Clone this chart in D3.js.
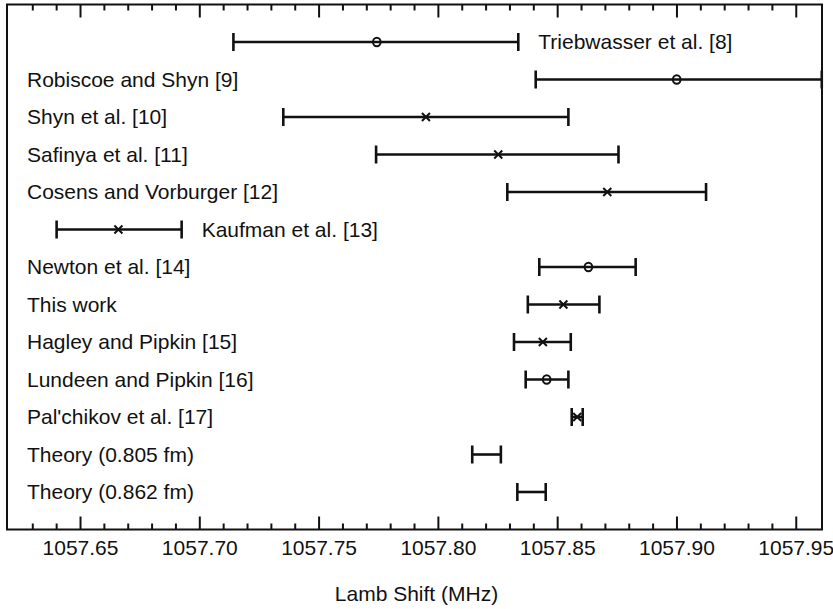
<!DOCTYPE html>
<html>
<head>
<meta charset="utf-8">
<script src="https://cdn.jsdelivr.net/npm/d3@7"></script>
<style>
  html, body { margin: 0; padding: 0; background: #fff; }
  svg { display: block; font-family: "Liberation Sans", Arial, Helvetica, sans-serif; }
</style>
</head>
<body>
<svg id="chart" width="833" height="609"></svg>
<script>
// ---- data ----
const labels = [
  "Triebwasser et al. [8]",
  "Robiscoe and Shyn [9]",
  "Shyn et al. [10]",
  "Safinya et al. [11]",
  "Cosens and Vorburger [12]",
  "Kaufman et al. [13]",
  "Newton et al. [14]",
  "This work",
  "Hagley and Pipkin [15]",
  "Lundeen and Pipkin [16]",
  "Pal'chikov et al. [17]",
  "Theory (0.805 fm)",
  "Theory (0.862 fm)"
];
const lows    = [1057.7143, 1057.8410, 1057.7352, 1057.7741, 1057.8291, 1057.6402, 1057.8425, 1057.8377, 1057.8319, 1057.8368, 1057.8561, 1057.8144, 1057.8333];
const centers = [1057.7744, 1057.9001, 1057.7950, 1057.8253, 1057.8710, 1057.6661, 1057.8631, 1057.8526, 1057.8440, 1057.8456, 1057.8584, null, null];
const highs   = [1057.8337, 1057.9609, 1057.8547, 1057.8757, 1057.9124, 1057.6926, 1057.8829, 1057.8677, 1057.8557, 1057.8547, 1057.8607, 1057.8264, 1057.8452];
const markers = ["o", "o", "x", "x", "x", "x", "o", "x", "x", "o", "x", "", ""];
const labelAfterBar = ["Triebwasser et al. [8]", "Kaufman et al. [13]"];
const majorTicks = [1057.65, 1057.70, 1057.75, 1057.80, 1057.85, 1057.90, 1057.95];
const minorTicks = [1057.63, 1057.64, 1057.66, 1057.67, 1057.68, 1057.69, 1057.71, 1057.72, 1057.73, 1057.74,
                    1057.76, 1057.77, 1057.78, 1057.79, 1057.81, 1057.82, 1057.83, 1057.84, 1057.86, 1057.87,
                    1057.88, 1057.89, 1057.91, 1057.92, 1057.93, 1057.94];
const xTitle = "Lamb Shift (MHz)";

// ---- layout ----
const plotL = 7, plotR = 822, plotT = 4.5, plotB = 529.5;
const ink = "#111";
const fontSize = 21;

const svg = d3.select("#chart");
const x = d3.scaleLinear().domain([1057.6194, 1057.961]).range([plotL, plotR]);
const y = d3.scalePoint().domain(labels).range([plotT, plotB]).padding(1);

// frame
svg.append("rect")
  .attr("x", plotL).attr("y", plotT)
  .attr("width", plotR - plotL).attr("height", plotB - plotT)
  .attr("fill", "none").attr("stroke", ink).attr("stroke-width", 2);

// axes (ticks inward)
function styleAxis(g) {
  g.select(".domain").remove();
  g.selectAll(".tick line").attr("stroke", ink).attr("stroke-width", 2);
  g.selectAll(".tick text").attr("fill", ink).attr("font-size", fontSize)
    .attr("font-family", "'Liberation Sans', Arial, sans-serif");
}
svg.append("g").attr("transform", `translate(0,${plotB})`)
  .call(d3.axisBottom(x).tickValues(majorTicks).tickSize(-13).tickPadding(11).tickFormat(d3.format(".2f")))
  .call(styleAxis);
svg.append("g").attr("transform", `translate(0,${plotB})`)
  .call(d3.axisBottom(x).tickValues(minorTicks).tickSize(-6).tickFormat(""))
  .call(styleAxis);
svg.append("g").attr("transform", `translate(0,${plotT})`)
  .call(d3.axisTop(x).tickValues(majorTicks).tickSize(-13).tickFormat(""))
  .call(styleAxis);
svg.append("g").attr("transform", `translate(0,${plotT})`)
  .call(d3.axisTop(x).tickValues(minorTicks).tickSize(-6).tickFormat(""))
  .call(styleAxis);

// x title
svg.append("text")
  .attr("x", (plotL + plotR) / 2 + 2).attr("y", 600.5)
  .attr("text-anchor", "middle").attr("font-size", fontSize).attr("fill", ink)
  .text(xTitle);

// error bars
const rows = labels.map((l, i) => ({ label: l, lo: lows[i], c: centers[i], hi: highs[i], m: markers[i] }));
const capH = 9;
const g = svg.append("g");
rows.forEach(r => {
  const yy = y(r.label);
  g.append("line").attr("x1", x(r.lo)).attr("x2", x(r.hi)).attr("y1", yy).attr("y2", yy)
    .attr("stroke", ink).attr("stroke-width", 2.6);
  [r.lo, r.hi].forEach(v => {
    g.append("line").attr("x1", x(v)).attr("x2", x(v)).attr("y1", yy - capH).attr("y2", yy + capH)
      .attr("stroke", ink).attr("stroke-width", 2.6);
  });
  if (r.m === "o") {
    g.append("ellipse").attr("cx", x(r.c)).attr("cy", yy).attr("rx", 3.8).attr("ry", 4.3)
      .attr("fill", "none").attr("stroke", ink).attr("stroke-width", 2);
  } else if (r.m === "x") {
    const cx = x(r.c), s = 4;
    g.append("path")
      .attr("d", `M${cx - s},${yy - s}L${cx + s},${yy + s}M${cx - s},${yy + s}L${cx + s},${yy - s}`)
      .attr("stroke", ink).attr("stroke-width", 2).attr("fill", "none");
  }
  const after = labelAfterBar.includes(r.label);
  g.append("text")
    .attr("x", after ? x(r.hi) + 20 : 27)
    .attr("y", yy).attr("dy", "0.35em")
    .attr("font-size", fontSize).attr("fill", ink)
    .text(r.label);
});
</script>
</body>
</html>
